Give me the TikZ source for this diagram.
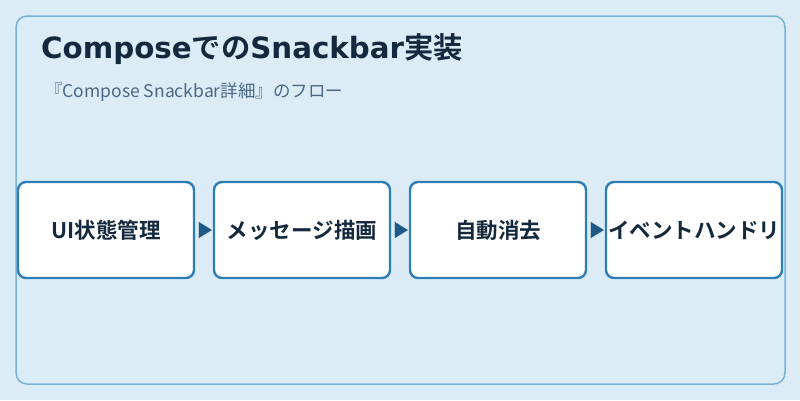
\documentclass[tikz,border=0pt]{standalone}
\usepackage{fontspec}
\setmainfont{Noto Sans CJK JP}
\newfontfamily\jpbold{Noto Sans CJK JP Bold}
\newfontfamily\latbold{DejaVu Sans Bold}
\usetikzlibrary{positioning,arrows.meta}
\definecolor{pagebg}{HTML}{DCECF7}
\definecolor{framecol}{HTML}{7AB2D6}
\definecolor{boxline}{HTML}{2E7DB6}
\definecolor{tipcol}{HTML}{1F5A86}
\definecolor{titlecol}{HTML}{14293D}
\definecolor{subcol}{HTML}{4A6886}
\tikzset{
  stepbox/.style={draw=boxline, line width=2.4pt, fill=white, rounded corners=8pt,
    minimum width=176pt, minimum height=96pt, inner sep=0pt,
    font=\jpbold\fontsize{21.5pt}{24pt}\selectfont, text=titlecol},
  flow/.style={draw=tipcol, line width=0.1pt, -{Triangle[length=13pt,width=16pt]}, shorten <=4pt, shorten >=1pt}
}
\begin{document}
\begin{tikzpicture}[x=1pt,y=-1pt]
			\useasboundingbox (0,0) rectangle (800,400);
			\fill[pagebg] (0,0) rectangle (800,400);
			\draw[framecol, line width=1.5pt, rounded corners=11pt] (16,16) rectangle (785,384);
			\node[anchor=base west, inner sep=0pt, text=titlecol, font=\fontsize{29.3pt}{33pt}\selectfont] (title) at (41,58) {{\latbold Compose}{\jpbold での}{\latbold Snackbar}{\jpbold 実装}};
			\node[anchor=base west, inner sep=0pt, text=subcol, font=\fontsize{17.5pt}{20pt}\selectfont] (sub) at (45,97) {『Compose Snackbar詳細』のフロー};
			\node[stepbox] (0) at (106,230) {UI状態管理};
			\node[stepbox] (1) at (302,230) {メッセージ描画};
			\node[stepbox] (2) at (498,230) {自動消去};
			\node[stepbox] (3) at (694,230) {イベントハンドリ};
			\draw [flow] (0)--(1);
			\draw [flow] (1)--(2);
			\draw [flow] (2)--(3);
			\end{tikzpicture}
\end{document}
